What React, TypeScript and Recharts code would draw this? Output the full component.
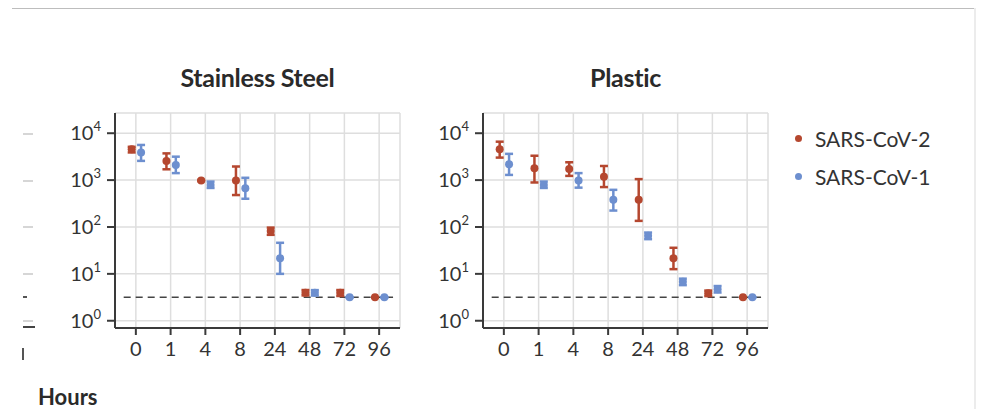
import {
  ScatterChart,
  Scatter,
  XAxis,
  YAxis,
  CartesianGrid,
  ErrorBar,
  ReferenceLine,
} from "recharts";

// ─── Data ─────────────────────────────────────────────────────────────────────

const HOURS = ["0", "1", "4", "8", "24", "48", "72", "96"];
const Y_TICKS = [1, 10, 100, 1000, 10000];
const DETECTION_LIMIT = 3.16;

// Stainless steel, TCID50 per ml
const STEEL_COV2 = [4570, 2570, 980, 980, 82, 3.96, 3.96, 3.16];
const STEEL_COV2_LOW = [3890, 1700, 950, 480, 68, 3.47, 3.37, 3.16];
const STEEL_COV2_HIGH = [5130, 3715, 1010, 1950, 97, 4.52, 4.52, 3.16];

const STEEL_COV1 = [3870, 2100, 790, 670, 21.5, 3.96, 3.16, 3.16];
const STEEL_COV1_LOW = [2570, 1410, 680, 400, 10, 3.45, 3.16, 3.16];
const STEEL_COV1_HIGH = [5620, 3160, 930, 1120, 46, 4.5, 3.16, 3.16];

// Plastic
const PLASTIC_COV2 = [4570, 1780, 1730, 1180, 380, 21.5, 3.85, 3.16];
const PLASTIC_COV2_LOW = [3020, 890, 1230, 710, 135, 12.6, 3.35, 3.16];
const PLASTIC_COV2_HIGH = [6600, 3310, 2400, 2000, 1050, 36, 4.4, 3.16];

const PLASTIC_COV1 = [2180, 790, 980, 380, 65, 6.8, 4.7, 3.16];
const PLASTIC_COV1_LOW = [1290, 680, 690, 224, 55, 5.75, 4.0, 3.16];
const PLASTIC_COV1_HIGH = [3630, 930, 1410, 620, 76, 7.9, 5.5, 3.16];

// ─── Styles ───────────────────────────────────────────────────────────────────

const RED = "#b5472f";
const BLUE = "#6d8fcf";
const INK = "#333333";
const AXIS = "#3a3a3a";
const FONT = "Lato, 'Open Sans', sans-serif";

// small horizontal nudge so the two viruses don't sit on top of each other
const RED_SHIFT = -0.12;
const BLUE_SHIFT = 0.15;

type Point = { x: number; y: number; err: [number, number] };

function buildSeries(values: number[], low: number[], high: number[], shift: number): Point[] {
  return values.map((v, i) => ({ x: i + shift, y: v, err: [v - low[i], high[i] - v] }));
}

function PowerTick(props: any) {
  const { x, y, payload } = props;
  const exp = Math.round(Math.log10(payload.value));
  return (
    <text x={x} y={y + 7} textAnchor="end" fontSize={20} fill={INK} fontFamily={FONT}>
      10
      <tspan fontSize={13} dy={-9}>
        {exp}
      </tspan>
    </text>
  );
}

const dot = (color: string) => (p: any) => <circle cx={p.cx} cy={p.cy} r={4} fill={color} />;

// ─── One panel ────────────────────────────────────────────────────────────────

function Panel({ left, title, cov2, cov1 }: { left: number; title: string; cov2: Point[]; cov1: Point[] }) {
  return (
    <div style={{ position: "absolute", left, top: 0, width: 420, height: 409 }}>
      <div
        style={{
          position: "absolute",
          left: 115,
          width: 285,
          top: 62,
          textAlign: "center",
          fontFamily: FONT,
          fontWeight: 700,
          fontSize: 25,
          letterSpacing: -0.3,
          color: "#2a2a2a",
        }}
      >
        {title}
      </div>
      <ScatterChart width={420} height={409} margin={{ top: 113, right: 20, bottom: 51, left: 0 }}>
        <CartesianGrid stroke="#dedede" strokeWidth={1.5} />
        <XAxis
          type="number"
          dataKey="x"
          domain={[-0.6, 7.6]}
          ticks={[0, 1, 2, 3, 4, 5, 6, 7]}
          tickFormatter={(i: number) => HOURS[i]}
          interval={0}
          height={30}
          stroke={AXIS}
          strokeWidth={2}
          tickSize={7}
          tickMargin={7}
          tick={{ fontSize: 20, fill: INK, fontFamily: FONT }}
        />
        <YAxis
          type="number"
          dataKey="y"
          scale="log"
          domain={[0.7, 27000]}
          allowDataOverflow
          ticks={Y_TICKS}
          width={115}
          stroke={AXIS}
          strokeWidth={2}
          tickSize={8}
          tickMargin={6}
          tick={<PowerTick />}
        />
        <ReferenceLine
          segment={[
            { x: -0.35, y: DETECTION_LIMIT },
            { x: 7.4, y: DETECTION_LIMIT },
          ]}
          stroke="#444"
          strokeWidth={1.5}
          strokeDasharray="7 5"
        />
        <Scatter data={cov2} fill={RED} shape={dot(RED)} isAnimationActive={false}>
          <ErrorBar dataKey="err" direction="y" width={4} stroke={RED} strokeWidth={2.5} />
        </Scatter>
        <Scatter data={cov1} fill={BLUE} shape={dot(BLUE)} isAnimationActive={false}>
          <ErrorBar dataKey="err" direction="y" width={4} stroke={BLUE} strokeWidth={2.5} />
        </Scatter>
      </ScatterChart>
    </div>
  );
}

// bits of the neighbouring panel that got cropped at the left edge
function CroppedEdge() {
  const rows = [134, 181, 227, 274, 321];
  return (
    <>
      {rows.map((y) => (
        <div key={y} style={{ position: "absolute", left: 23, top: y - 1, width: 10, height: 2, background: "#d6d6d6" }} />
      ))}
      <div style={{ position: "absolute", left: 23, top: 296, width: 4, height: 2, background: "#555" }} />
      <div style={{ position: "absolute", left: 23, top: 326, width: 12, height: 2, background: "#444" }} />
      <div style={{ position: "absolute", left: 22, top: 348, width: 2, height: 12, background: "#555" }} />
    </>
  );
}

export default function App() {
  const steelCov2 = buildSeries(STEEL_COV2, STEEL_COV2_LOW, STEEL_COV2_HIGH, RED_SHIFT);
  const steelCov1 = buildSeries(STEEL_COV1, STEEL_COV1_LOW, STEEL_COV1_HIGH, BLUE_SHIFT);
  const plasticCov2 = buildSeries(PLASTIC_COV2, PLASTIC_COV2_LOW, PLASTIC_COV2_HIGH, RED_SHIFT);
  const plasticCov1 = buildSeries(PLASTIC_COV1, PLASTIC_COV1_LOW, PLASTIC_COV1_HIGH, BLUE_SHIFT);

  return (
    <div
      style={{
        position: "absolute",
        left: 0,
        top: 0,
        width: 986,
        height: 409,
        background: "#fff",
        overflow: "hidden",
        fontFamily: FONT,
      }}
    >
      <div style={{ position: "absolute", left: 12, top: 8, width: 963, height: 1, background: "#bdbdbd" }} />
      <div style={{ position: "absolute", left: 974, top: 8, width: 2, height: 401, background: "#ececec" }} />
      <CroppedEdge />

      <Panel left={0} title="Stainless Steel" cov2={steelCov2} cov1={steelCov1} />
      <Panel left={368} title="Plastic" cov2={plasticCov2} cov1={plasticCov1} />

      {/* legend */}
      {[
        { name: "SARS-CoV-2", color: RED, y: 138 },
        { name: "SARS-CoV-1", color: BLUE, y: 176 },
      ].map((item) => (
        <div
          key={item.name}
          style={{ position: "absolute", left: 795, top: item.y - 14, height: 28, display: "flex", alignItems: "center" }}
        >
          <span style={{ width: 7, height: 7, borderRadius: "50%", background: item.color, marginRight: 13 }} />
          <span style={{ fontSize: 21, color: INK }}>{item.name}</span>
        </div>
      ))}

      <div
        style={{ position: "absolute", left: 38, top: 383, fontSize: 22, fontWeight: 700, color: "#2a2a2a" }}
      >
        Hours
      </div>
    </div>
  );
}
